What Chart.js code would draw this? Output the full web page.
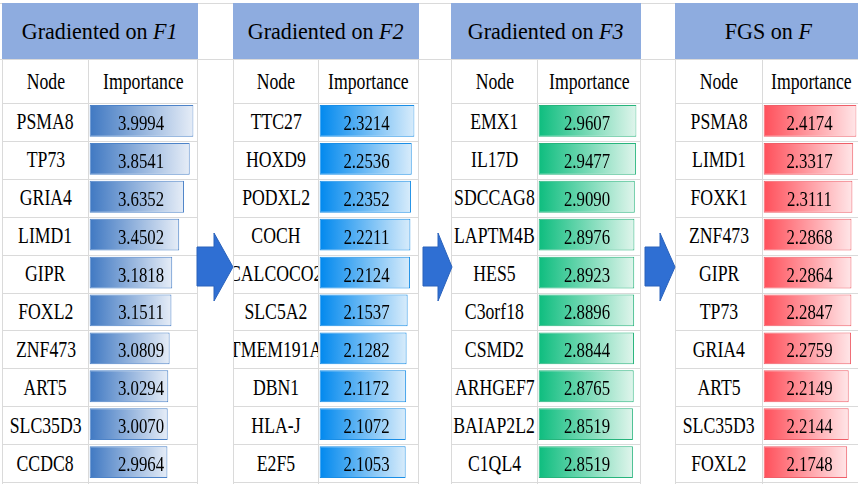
<!DOCTYPE html>
<html>
<head>
<meta charset="utf-8">
<script src="https://cdn.jsdelivr.net/npm/chart.js@4.4.0/dist/chart.umd.min.js"></script>
<style>
  html, body { margin: 0; padding: 0; background: #fff; }
  #stage { position: relative; width: 858px; height: 484px; overflow: hidden;
           font-family: "Liberation Serif", "Times New Roman", serif; color: #000; }
  .line { position: absolute; background: #dadada; }
  .cell { position: absolute; display: flex; justify-content: center; align-items: center;
          overflow: hidden; white-space: nowrap; font-size: 23px; }
  .cell span { display: inline-block; transform: scaleX(0.77); }
  .head { background: #8eacdf; font-size: 24px; }
  .head span { transform: scaleX(0.92); }
  canvas { position: absolute; }
  svg { position: absolute; left: 0; top: 0; }
</style>
</head>
<body>
<div id="stage"></div>
<script>
// table contents
var titlePrefix = ['Gradiented on ', 'Gradiented on ', 'Gradiented on ', 'FGS on '];
var titleVar = ['F1', 'F2', 'F3', 'F'];

var nodesF1 = ['PSMA8', 'TP73', 'GRIA4', 'LIMD1', 'GIPR', 'FOXL2', 'ZNF473', 'ART5', 'SLC35D3', 'CCDC8'];
var valuesF1 = [3.9994, 3.8541, 3.6352, 3.4502, 3.1818, 3.1511, 3.0809, 3.0294, 3.0070, 2.9964];

var nodesF2 = ['TTC27', 'HOXD9', 'PODXL2', 'COCH', 'CALCOCO2', 'SLC5A2', 'TMEM191A', 'DBN1', 'HLA-J', 'E2F5'];
var valuesF2 = [2.3214, 2.2536, 2.2352, 2.2211, 2.2124, 2.1537, 2.1282, 2.1172, 2.1072, 2.1053];

var nodesF3 = ['EMX1', 'IL17D', 'SDCCAG8', 'LAPTM4B', 'HES5', 'C3orf18', 'CSMD2', 'ARHGEF7', 'BAIAP2L2', 'C1QL4'];
var valuesF3 = [2.9607, 2.9477, 2.9090, 2.8976, 2.8923, 2.8896, 2.8844, 2.8765, 2.8519, 2.8519];

var nodesF = ['PSMA8', 'LIMD1', 'FOXK1', 'ZNF473', 'GIPR', 'TP73', 'GRIA4', 'ART5', 'SLC35D3', 'FOXL2'];
var valuesF = [2.4174, 2.3317, 2.3111, 2.2868, 2.2864, 2.2847, 2.2759, 2.2149, 2.2144, 2.1748];

var allNodes = [nodesF1, nodesF2, nodesF3, nodesF];
var allValues = [valuesF1, valuesF2, valuesF3, valuesF];

// look
var barStart = ['#3f78c2', '#0088ee', '#0dbd7e', '#ff4f5a'];
var barEnd = ['#e6edf7', '#d8ecfb', '#e0f5ec', '#ffe6e8'];
var barBorder = ['#4d83c8', '#1a8ee6', '#27b47c', '#ef5f69'];

// layout
var TOP = 3, HEAD_B = 59, SUB_B = 103, ROW_H = 37.9;
var panels = [
    { l: 2, d: 88, r: 197 },
    { l: 233, d: 318, r: 418 },
    { l: 451, d: 537, r: 640 },
    { l: 675, d: 762, r: 860 }
];
var arrows = [[197, 214, 233], [423, 438, 452], [645, 660, 675]];

var stage = document.getElementById('stage');

function addLine(x, y, w, h) {
    var d = document.createElement('div');
    d.className = 'line';
    d.style.left = x + 'px'; d.style.top = y + 'px';
    d.style.width = w + 'px'; d.style.height = h + 'px';
    stage.appendChild(d);
}

function addCell(x, y, w, h, html, cls) {
    var d = document.createElement('div');
    d.className = 'cell' + (cls ? ' ' + cls : '');
    d.style.left = x + 'px'; d.style.top = y + 'px';
    d.style.width = w + 'px'; d.style.height = h + 'px';
    d.innerHTML = '<span>' + html + '</span>';
    stage.appendChild(d);
    return d;
}

// sheet lines running across the whole width
addLine(0, TOP, 858, 1);
addLine(0, HEAD_B, 858, 1);

var valueLabels = {
    id: 'valueLabels',
    afterDatasetsDraw: function (chart) {
        var ctx = chart.ctx;
        var meta = chart.getDatasetMeta(0);
        var vals = chart.data.datasets[0].data;
        ctx.save();
        ctx.font = '21px "Liberation Serif", "Times New Roman", serif';
        ctx.fillStyle = '#000';
        ctx.textAlign = 'center';
        ctx.textBaseline = 'alphabetic';
        meta.data.forEach(function (bar, i) {
            ctx.save();
            ctx.translate(chart.width / 2 - 2, bar.y + 9);
            ctx.scale(0.8, 1);
            ctx.fillText(vals[i].toFixed(4), 0, 0);
            ctx.restore();
        });
        ctx.restore();
    }
};

panels.forEach(function (p, k) {
    var bottom = SUB_B + 10 * ROW_H;

    // grid
    addLine(p.l, TOP, 1, 484 - TOP);
    addLine(p.r, TOP, 1, 484 - TOP);
    addLine(p.d, HEAD_B, 1, 484 - HEAD_B);
    for (var i = 0; i <= 10; i++) {
        addLine(p.l, Math.round(SUB_B + i * ROW_H), p.r - p.l, 1);
    }

    // header and column titles
    addCell(p.l, TOP, p.r - p.l + 1, HEAD_B - TOP,
        titlePrefix[k] + '<i>' + titleVar[k] + '</i>', 'head');
    addCell(p.l + 1, HEAD_B + 1, p.d - p.l - 1, SUB_B - HEAD_B - 1, 'Node');
    addCell(p.d + 1, HEAD_B + 1, p.r - p.d - 1, SUB_B - HEAD_B - 1, 'Importance');

    // node names
    allNodes[k].forEach(function (name, i) {
        addCell(p.l + 1, SUB_B + i * ROW_H + 1, p.d - p.l - 1, ROW_H - 1, name);
    });

    // bars
    var canvas = document.createElement('canvas');
    canvas.width = p.r - p.d - 1;
    canvas.height = Math.round(bottom - SUB_B);
    canvas.style.left = (p.d + 1) + 'px';
    canvas.style.top = (SUB_B - 1) + 'px';
    stage.appendChild(canvas);

    var values = allValues[k];
    new Chart(canvas, {
        type: 'bar',
        data: {
            labels: allNodes[k],
            datasets: [{
                data: values,
                backgroundColor: function (c) {
                    var chart = c.chart;
                    if (!chart.chartArea || !chart.scales.x || c.raw === undefined) {
                        return barStart[k];
                    }
                    var x0 = chart.scales.x.getPixelForValue(0);
                    var x1 = chart.scales.x.getPixelForValue(c.raw);
                    var g = chart.ctx.createLinearGradient(x0, 0, x1, 0);
                    g.addColorStop(0, barStart[k]);
                    g.addColorStop(1, barEnd[k]);
                    return g;
                },
                borderColor: barBorder[k],
                borderWidth: 1,
                borderSkipped: false,
                barPercentage: 0.84,
                categoryPercentage: 1
            }]
        },
        options: {
            indexAxis: 'y',
            responsive: false,
            maintainAspectRatio: false,
            animation: false,
            events: [],
            layout: { padding: { left: 0.5, right: 3.5, top: 0, bottom: 0 } },
            scales: {
                x: { display: false, min: 0, max: Math.max.apply(null, values) },
                y: { display: false }
            },
            plugins: {
                legend: { display: false },
                tooltip: { enabled: false }
            }
        },
        plugins: [valueLabels]
    });
});

// arrows between the panels
var svgNS = 'http://www.w3.org/2000/svg';
var svg = document.createElementNS(svgNS, 'svg');
svg.setAttribute('width', 858);
svg.setAttribute('height', 484);
arrows.forEach(function (a) {
    var poly = document.createElementNS(svgNS, 'polygon');
    var pts = [
        [a[0], 247], [a[1], 247], [a[1], 233], [a[2], 267],
        [a[1], 301], [a[1], 286], [a[0], 286]
    ];
    poly.setAttribute('points', pts.map(function (q) { return q.join(','); }).join(' '));
    poly.setAttribute('fill', '#2f6fd3');
    poly.setAttribute('stroke', '#2a62bb');
    poly.setAttribute('stroke-width', 1);
    svg.appendChild(poly);
});
stage.appendChild(svg);
</script>
</body>
</html>
